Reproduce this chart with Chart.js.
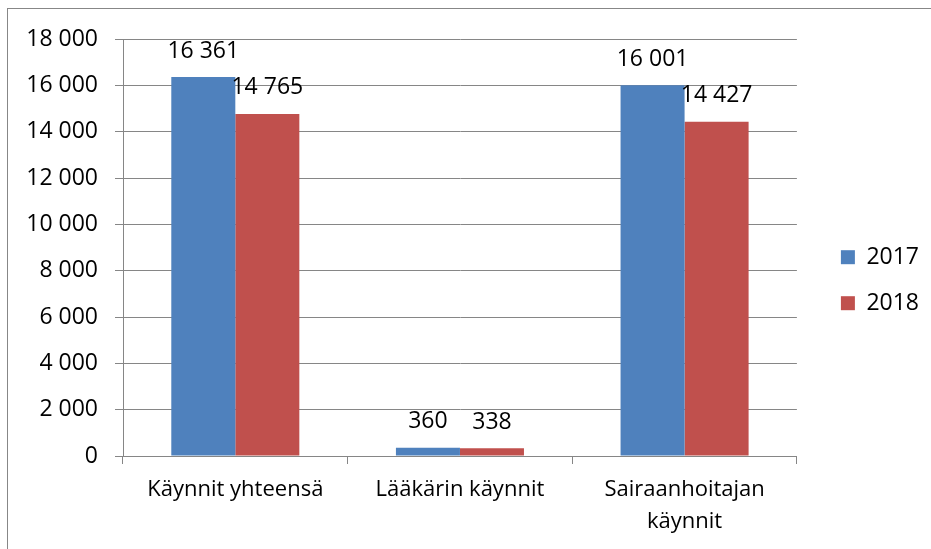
<!DOCTYPE html>
<html>
<head>
<meta charset="utf-8">
<script src="https://cdn.jsdelivr.net/npm/chart.js@4"></script>
<style>
  html, body { margin: 0; padding: 0; background: #fff; }
  #wrap { position: relative; width: 931px; height: 549px; overflow: hidden; }
  #frame { position: absolute; left: 7px; top: 8px; width: 1000px; height: 1000px; border: 1.5px solid #878787; }
  canvas { position: absolute; left: 0; top: 0; }
</style>
</head>
<body>
<div id="wrap">
  <div id="frame"></div>
  <canvas id="chart" width="931" height="549"></canvas>
</div>
<script>
const categories = [["Käynnit yhteensä"], ["Lääkärin käynnit"], ["Sairaanhoitajan", "käynnit"]];
const seriesNames = ["2017", "2018"];
const values2017 = [16361, 360, 16001];
const values2018 = [14765, 338, 14427];
const yTicks = [0, 2000, 4000, 6000, 8000, 10000, 12000, 14000, 16000, 18000];

const FONT = "'Open Sans', sans-serif";
const GRID = "#868686";

function formatNumber(v) {
  return String(v).replace(/\B(?=(\d{3})+(?!\d))/g, " ");
}

const barLabels = {
  id: "barLabels",
  afterDatasetsDraw(chart) {
    const ctx = chart.ctx;
    ctx.save();
    ctx.font = "23px " + FONT;
    ctx.fillStyle = "#000";
    ctx.textAlign = "center";
    ctx.textBaseline = "middle";
    chart.data.datasets.forEach((ds, i) => {
      chart.getDatasetMeta(i).data.forEach((bar, j) => {
        ctx.fillText(formatNumber(ds.data[j]), bar.x, bar.y - 26);
      });
    });
    ctx.restore();
  },
};

new Chart(document.getElementById("chart"), {
  type: "bar",
  plugins: [barLabels],
  data: {
    labels: categories,
    datasets: [
      { label: seriesNames[0], data: values2017, backgroundColor: "#4F81BD" },
      { label: seriesNames[1], data: values2018, backgroundColor: "#C0504D" },
    ],
  },
  options: {
    responsive: false,
    animation: false,
    layout: { padding: { top: 39, bottom: 0, left: 0, right: 2 } },
    datasets: { bar: { categoryPercentage: 0.57, barPercentage: 1 } },
    plugins: {
      tooltip: { enabled: false },
      legend: {
        position: "right",
        fullSize: false,
        // empty title only pushes the two items down to where they sit in the original
        title: { display: true, text: "", font: { size: 12 }, padding: { top: 51, bottom: 0 } },
        labels: {
          boxWidth: 14,
          boxHeight: 14,
          padding: 23,
          color: "#000",
          font: { family: FONT, size: 23 },
        },
      },
    },
    scales: {
      x: {
        afterFit: (s) => { s.height = 93; },
        grid: { offset: true, drawOnChartArea: false, drawTicks: true, tickLength: 8, color: GRID },
        border: { color: GRID },
        ticks: { color: "#000", padding: 10, maxRotation: 0, font: { family: FONT, size: 22, lineHeight: 1.45 } },
      },
      y: {
        min: 0,
        max: 18000,
        afterFit: (s) => { s.width = 123; },
        afterBuildTicks: (s) => { s.ticks = yTicks.map((v) => ({ value: v })); },
        grid: { color: GRID, tickLength: 8 },
        border: { color: GRID },
        ticks: {
          color: "#000",
          padding: 17,
          font: { family: FONT, size: 23 },
          callback: (v) => formatNumber(v),
        },
      },
      spacer: {
        type: "linear",
        position: "right",
        afterFit: (s) => { s.width = 21; },
        grid: { display: false },
        border: { display: false },
        ticks: { display: false },
      },
    },
  },
});
</script>
</body>
</html>
